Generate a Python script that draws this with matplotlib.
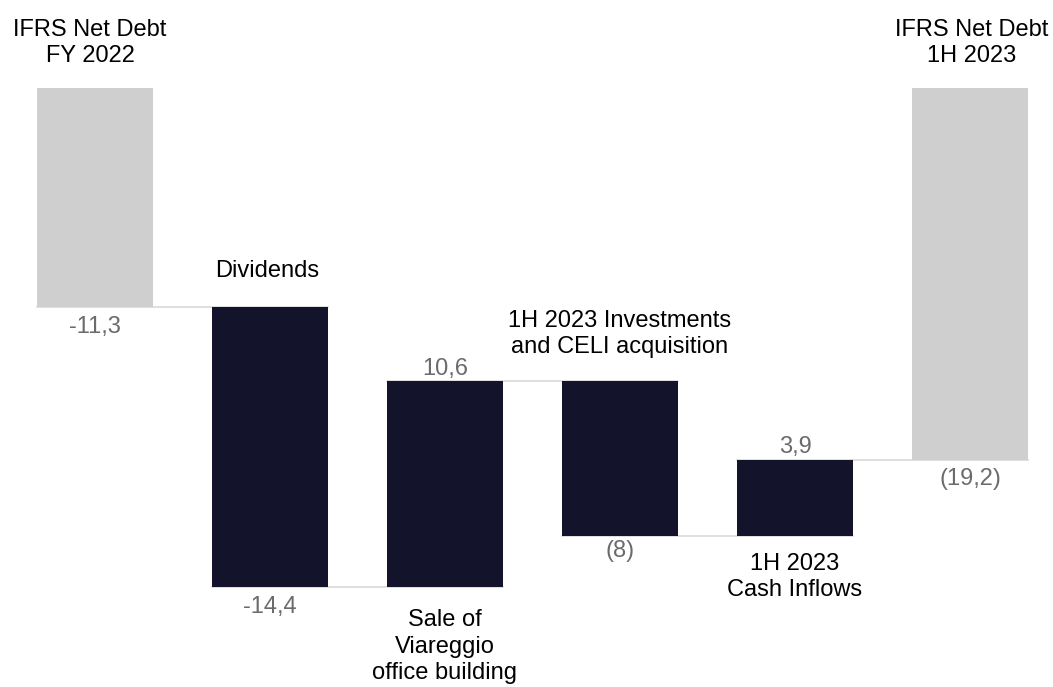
import numpy as np
import matplotlib.pyplot as plt

plt.rcParams['font.family'] = ['Liberation Sans', 'DejaVu Sans']

##DATA##########################################################################
categories = ['IFRS Net Debt\nFY 2022', 'Dividends', 'Sale of\nViareggio\noffice building',
              '1H 2023 Investments\nand CELI acquisition', '1H 2023\nCash Inflows',
              'IFRS Net Debt\n1H 2023']
values = [-11.3, -14.4, 10.6, -8.0, 3.9, -19.2]
value_labels = ['-11,3', '-14,4', '10,6', '(8)', '3,9', '(19,2)']
is_total = [True, False, False, False, False, True]
################################################################################

dark = '#13132b'
grey = '#d0cfd0'
label_grey = '#6b6b6b'
width = 116 / 175

# running level of net debt
bottoms = []
tops = []
ends = []
level = 0.0
for v, tot in zip(values, is_total):
    if tot:
        start, end = 0.0, v
    else:
        start, end = level, level + v
    level = end
    ends.append(end)
    bottoms.append(min(start, end))
    tops.append(max(start, end))
bottoms = np.array(bottoms)
tops = np.array(tops)

x = np.arange(len(values))

fig = plt.figure(figsize=(10.53, 6.87), dpi=100)
ax = fig.add_axes([0, 0, 1, 1])

colors = [grey if t else dark for t in is_total]
ax.bar(x, tops - bottoms, bottom=bottoms, width=width, color=colors, zorder=2)

# connectors between bars
for i in range(len(values) - 1):
    ax.plot([x[i] - width / 2, x[i + 1] + width / 2], [ends[i], ends[i]],
            color='#d9d9d9', lw=1.2, zorder=1)

# value labels (px offsets from the bar edge)
val_pos = [('below', 20), ('below', 20), ('above', 12), ('below', 15), ('above', 13), ('below', 19)]
for i, (side, off) in enumerate(val_pos):
    if side == 'below':
        ax.annotate(value_labels[i], (x[i], bottoms[i]), xytext=(0, -off), textcoords='offset pixels',
                    ha='center', va='center', fontsize=17, color=label_grey)
    else:
        ax.annotate(value_labels[i], (x[i], tops[i]), xytext=(0, off), textcoords='offset pixels',
                    ha='center', va='center', fontsize=17, color=label_grey)

# category labels
cat_pos = [('above', 45, -5), ('above', 36, -3), ('below', 60, 0), ('above', 47, 0),
           ('below', 41, 0), ('above', 45, 2)]
for i, (side, off, dx) in enumerate(cat_pos):
    if side == 'above':
        ax.annotate(categories[i], (x[i], tops[i]), xytext=(dx, off), textcoords='offset pixels',
                    ha='center', va='center', fontsize=17, color='black', linespacing=1.25)
    else:
        ax.annotate(categories[i], (x[i], bottoms[i]), xytext=(dx, -off), textcoords='offset pixels',
                    ha='center', va='center', fontsize=17, color='black', linespacing=1.25)

ax.set_xlim(-95 / 175, (1053 - 95) / 175)
ax.set_ylim(-(687 - 88) / 19.4, 88 / 19.4)
ax.axis('off')

fig.savefig('out.png', dpi=100)
